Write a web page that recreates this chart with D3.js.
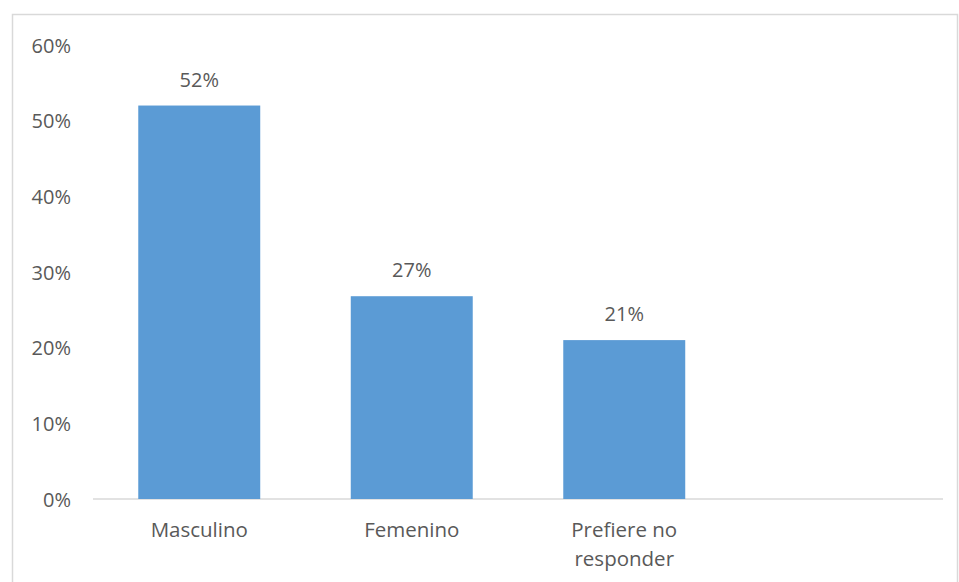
<!DOCTYPE html>
<html><head><meta charset="utf-8">
<script src="https://cdn.jsdelivr.net/npm/d3@7"></script>
<style>body{margin:0;background:#fff}svg{display:block}text{font-family:"Open Sans",sans-serif;fill:#595959}</style>
</head><body><svg id="c" width="959" height="582"></svg>
<script>
const categories = ["Masculino", "Femenino", "Prefiere no responder", ""];
const values = [0.52, 0.268, 0.21, null];
const labels = ["52%", "27%", "21%", ""];
const yTicks = [0, 0.1, 0.2, 0.3, 0.4, 0.5, 0.6];

const svg = d3.select("#c");
svg.append("rect").attr("x",12.5).attr("y",14.5).attr("width",945).attr("height",600)
  .attr("fill","none").attr("stroke","#d9d9d9").attr("stroke-width",1.5);

const x = d3.scaleBand().domain(categories.map((d,i)=>i)).range([93,943]).paddingInner(0.426).paddingOuter(0.213);
const y = d3.scaleLinear().domain([0,0.6]).range([499,45]);

const yAxis = svg.append("g").attr("transform","translate(71,0)")
  .call(d3.axisLeft(y).tickValues(yTicks).tickFormat(d3.format(".0%")).tickSize(0).tickPadding(0));
yAxis.select(".domain").remove();
yAxis.selectAll("text").attr("font-size",20).attr("fill","#595959").attr("dy","0.36em").attr("font-family","Open Sans");

svg.append("line").attr("x1",93).attr("x2",943).attr("y1",499).attr("y2",499).attr("stroke","#d9d9d9").attr("stroke-width",1.5);

const data = categories.map((c,i)=>({c,i,v:values[i],l:labels[i]})).filter(d=>d.v!=null);
svg.selectAll("rect.bar").data(data).join("rect").attr("class","bar")
  .attr("x",d=>x(d.i)).attr("width",x.bandwidth())
  .attr("y",d=>y(d.v)).attr("height",d=>y(0)-y(d.v)).attr("fill","#5b9bd5");

svg.selectAll("text.lab").data(data).join("text").attr("class","lab")
  .attr("x",d=>x(d.i)+x.bandwidth()/2).attr("y",d=>y(d.v)-19)
  .attr("text-anchor","middle").attr("font-size",20).text(d=>d.l);

const cat = svg.selectAll("text.cat").data(data).join("text").attr("class","cat")
  .attr("x",d=>x(d.i)+x.bandwidth()/2).attr("y",537)
  .attr("text-anchor","middle").attr("font-size",20.5);
cat.each(function(d){
  const t=d3.select(this);
  const lines = d.c==="Prefiere no responder" ? ["Prefiere no","responder"] : [d.c];
  lines.forEach((s,k)=>t.append("tspan").attr("x",x(d.i)+x.bandwidth()/2).attr("dy",k?29:0).text(s));
});
</script></body></html>
